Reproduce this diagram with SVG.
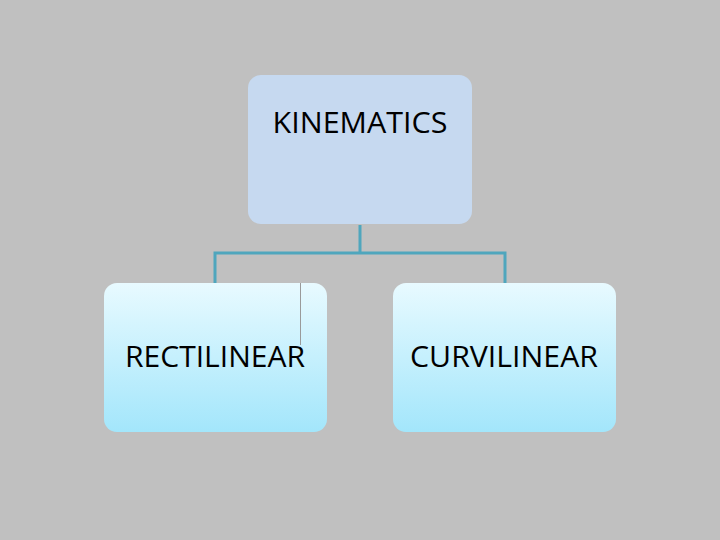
<svg xmlns="http://www.w3.org/2000/svg" width="720" height="540" viewBox="0 0 720 540">
<defs>
<linearGradient id="g" x1="0" y1="0" x2="0" y2="1">
<stop offset="0" stop-color="#e8faff"/>
<stop offset="1" stop-color="#a3e6fb"/>
</linearGradient>
<style>
.t{font-family:"Open Sans","Noto Sans","Liberation Sans",sans-serif;font-size:29px;fill:#000;text-anchor:middle}
.c{fill:none;stroke:#4fa6bd;stroke-width:3}
</style>
</defs>
<rect width="720" height="540" fill="#c0c0c0"/>
<g id="connectors">
<path class="c" d="M360 225V253M215 283V253H505V283"/>
</g>
<g id="kinematics">
<rect x="248" y="75" width="224" height="149" rx="13" fill="#c6d9f0"/>
<text class="t" x="360" y="133" textLength="175" lengthAdjust="spacingAndGlyphs">KINEMATICS</text>
</g>
<g id="rectilinear">
<rect x="104" y="283" width="223" height="149" rx="13" fill="url(#g)"/>
<text class="t" x="215" y="367" textLength="180" lengthAdjust="spacingAndGlyphs">RECTILINEAR</text>
</g>
<g id="curvilinear">
<rect x="393" y="283" width="223" height="149" rx="13" fill="url(#g)"/>
<text class="t" x="504" y="367" textLength="188" lengthAdjust="spacingAndGlyphs">CURVILINEAR</text>
</g>
<line x1="300.5" y1="283" x2="300.5" y2="345" stroke="#9a9a9a" stroke-width="1"/>
</svg>
